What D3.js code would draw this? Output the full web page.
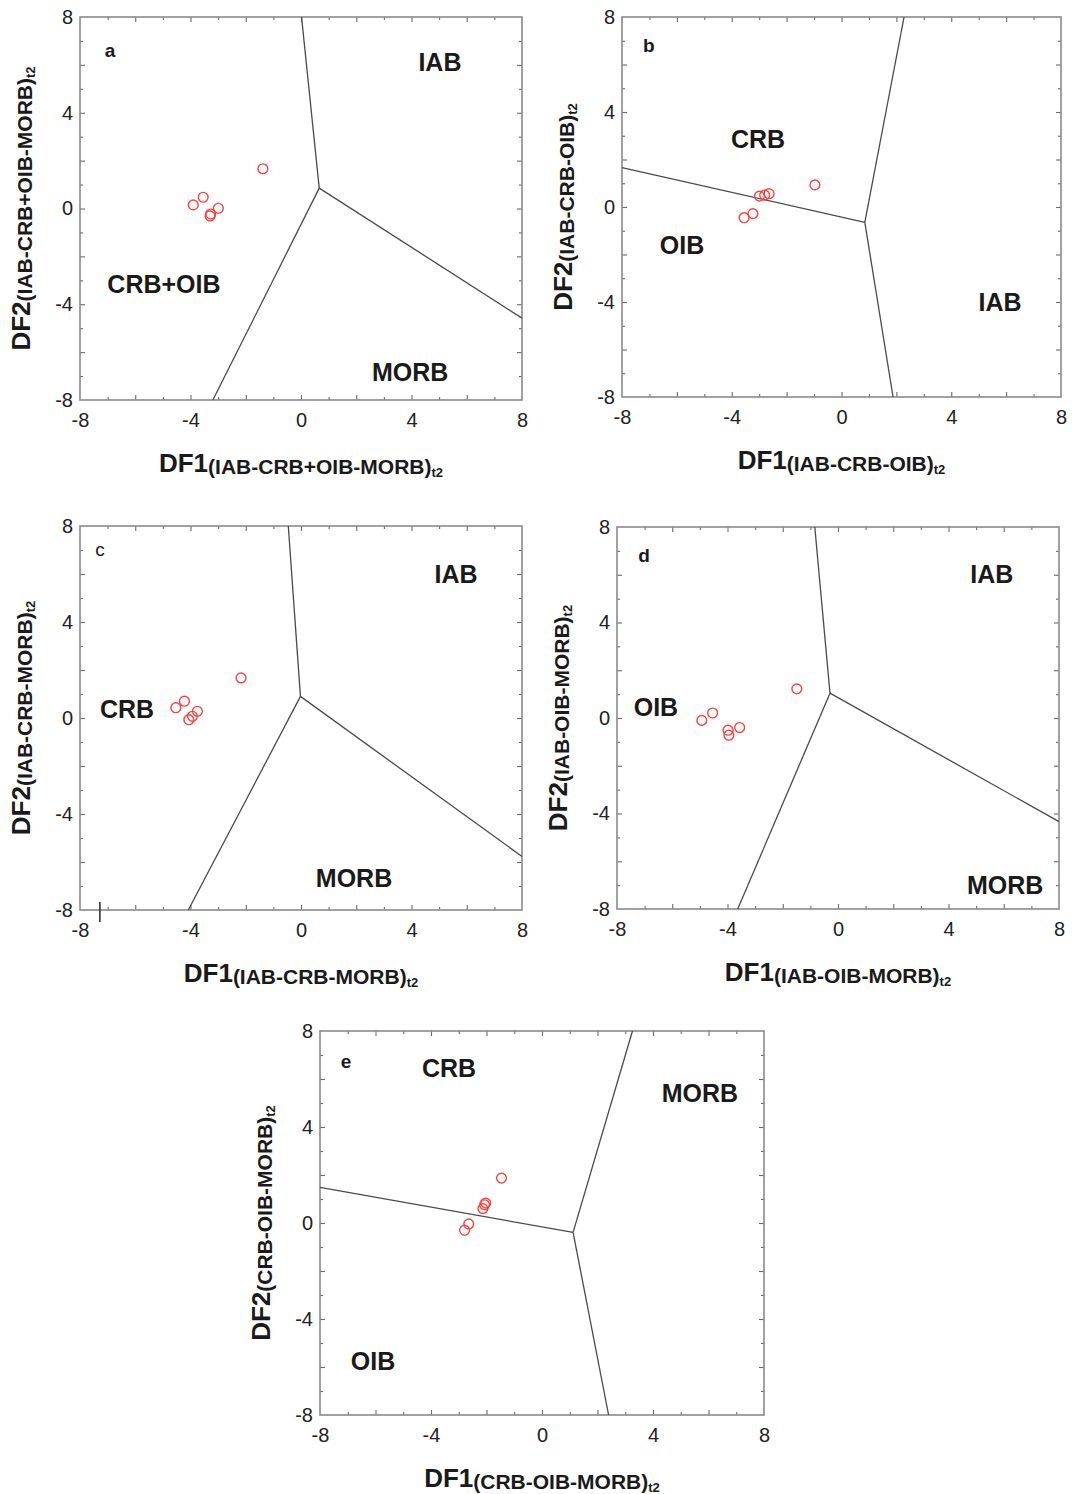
<!DOCTYPE html>
<html>
<head>
<meta charset="utf-8">
<script src="https://cdn.jsdelivr.net/npm/d3@7"></script>
<style>
  html, body { margin: 0; padding: 0; background: #ffffff; }
  svg { display: block; }
  text { font-family: "Liberation Sans", Arial, sans-serif; }
</style>
</head>
<body>
<svg id="chart" width="1072" height="1494"></svg>
<script>
// ---- Discriminant-function diagrams (DF1 vs DF2), five panels ----

const panelLetters = ["a", "b", "c", "d", "e"];
const xSubscripts = ["(IAB-CRB+OIB-MORB)", "(IAB-CRB-OIB)", "(IAB-CRB-MORB)", "(IAB-OIB-MORB)", "(CRB-OIB-MORB)"];
const ySubscripts = ["(IAB-CRB+OIB-MORB)", "(IAB-CRB-OIB)", "(IAB-CRB-MORB)", "(IAB-OIB-MORB)", "(CRB-OIB-MORB)"];
const axisTickLabels = [-8, -4, 0, 4, 8];

// sample scores per panel
const df1A = [-1.38, -3.54, -3.90, -2.99, -3.27, -3.29];
const df2A = [ 1.66,  0.47,  0.15,  0.01, -0.23, -0.31];
const df1B = [-0.97, -2.64, -2.80, -2.99, -3.23, -3.55];
const df2B = [ 0.93,  0.56,  0.50,  0.46, -0.28, -0.45];
const df1C = [-2.17, -4.22, -4.53, -3.75, -3.93, -4.06];
const df2C = [ 1.67,  0.70,  0.43,  0.28,  0.07, -0.07];
const df1D = [-1.49, -4.54, -4.93, -3.56, -3.98, -3.95];
const df2D = [ 1.22,  0.21, -0.10, -0.40, -0.51, -0.72];
const df1E = [-1.46, -2.03, -2.13, -2.64, -2.79, -2.07];
const df2E = [ 1.87,  0.83,  0.60, -0.04, -0.30,  0.76];

// field boundaries: a triple junction joined to three edge points
const junctionA = [0.66, 0.85];
const junctionB = [0.85, -0.65];
const junctionC = [-0.02, 0.90];
const junctionD = [-0.29, 1.04];
const junctionE = [1.12, -0.39];
const edgesA = [[0.02, 8], [8, -4.58], [-3.19, -8]];
const edgesB = [[2.28, 8], [-8, 1.66], [1.88, -8]];
const edgesC = [[-0.46, 8], [8, -5.77], [-4.08, -8]];
const edgesD = [[-0.84, 8], [8, -4.34], [-3.63, -8]];
const edgesE = [[3.26, 8], [-8, 1.48], [2.40, -8]];

// tectonic field names and their anchor points (DF1, DF2)
const fieldsA = ["IAB", "CRB+OIB", "MORB"];
const fieldPosA = [[5.03, 6.12], [-4.96, -3.15], [3.95, -6.83]];
const fieldsB = ["CRB", "OIB", "IAB"];
const fieldPosB = [[-3.04, 2.86], [-5.81, -1.60], [5.78, -4.00]];
const fieldsC = ["IAB", "CRB", "MORB"];
const fieldPosC = [[5.61, 6.00], [-6.30, 0.37], [1.92, -6.67]];
const fieldsD = ["IAB", "OIB", "MORB"];
const fieldPosD = [[5.57, 6.03], [-6.59, 0.46], [6.05, -7.00]];
const fieldsE = ["CRB", "MORB", "OIB"];
const fieldPosE = [[-3.35, 6.46], [5.69, 5.42], [-6.09, -5.75]];

// panel letter anchors
const letterPos = [[-6.91, 6.62], [-7.02, 6.78], [-7.28, 7.04], [-7.02, 6.79], [-7.06, 6.75]];

const panelData = [
  { df1: df1A, df2: df2A, junction: junctionA, edges: edgesA, fields: fieldsA, fieldPos: fieldPosA },
  { df1: df1B, df2: df2B, junction: junctionB, edges: edgesB, fields: fieldsB, fieldPos: fieldPosB },
  { df1: df1C, df2: df2C, junction: junctionC, edges: edgesC, fields: fieldsC, fieldPos: fieldPosC },
  { df1: df1D, df2: df2D, junction: junctionD, edges: edgesD, fields: fieldsD, fieldPos: fieldPosD },
  { df1: df1E, df2: df2E, junction: junctionE, edges: edgesE, fields: fieldsE, fieldPos: fieldPosE }
];

// plot frames on the page
const frames = [
  { left: 80,  top: 17,   width: 442, height: 383 },
  { left: 622, top: 17,   width: 439, height: 380 },
  { left: 80,  top: 526,  width: 442, height: 384 },
  { left: 617, top: 527,  width: 442, height: 382 },
  { left: 320, top: 1031, width: 444, height: 384 }
];

const svg = d3.select("#chart");
const hyphenFormat = d => String(d);   // plain hyphen-minus for negatives

function styleTicks(sel, color) {
  sel.select(".domain").remove();
  sel.selectAll(".tick line").attr("stroke", color).attr("stroke-width", 1.1);
}

function drawPanel(i) {
  const f = frames[i];
  const p = panelData[i];
  const g = svg.append("g").attr("transform", `translate(${f.left},${f.top})`);
  const x = d3.scaleLinear().domain([-8, 8]).range([0, f.width]);
  const y = d3.scaleLinear().domain([-8, 8]).range([f.height, 0]);

  const oddTicks = d3.range(-7, 8, 2);
  const evenTicks = d3.range(-6, 7, 2);
  const tickColor = "#6a6a6a";

  // inward ticks on all four sides
  [[oddTicks, 3], [evenTicks, 5]].forEach(([vals, len]) => {
    g.append("g").attr("transform", `translate(0,${f.height})`)
      .call(d3.axisBottom(x).tickValues(vals).tickSize(-len).tickFormat(""))
      .call(s => styleTicks(s, tickColor));
    g.append("g")
      .call(d3.axisTop(x).tickValues(vals).tickSize(-len).tickFormat(""))
      .call(s => styleTicks(s, tickColor));
    g.append("g")
      .call(d3.axisLeft(y).tickValues(vals).tickSize(-len).tickFormat(""))
      .call(s => styleTicks(s, tickColor));
    g.append("g").attr("transform", `translate(${f.width},0)`)
      .call(d3.axisRight(y).tickValues(vals).tickSize(-len).tickFormat(""))
      .call(s => styleTicks(s, tickColor));
  });

  // tick labels
  const xl = g.append("g").attr("transform", `translate(0,${f.height})`)
    .call(d3.axisBottom(x).tickValues(axisTickLabels).tickSize(0).tickPadding(13).tickFormat(hyphenFormat));
  xl.select(".domain").remove();
  xl.selectAll("text").attr("font-size", 20).attr("fill", "#222")
    .attr("font-family", "'Liberation Sans', Arial, sans-serif");

  const yl = g.append("g")
    .call(d3.axisLeft(y).tickValues(axisTickLabels).tickSize(0).tickPadding(7).tickFormat(hyphenFormat));
  yl.select(".domain").remove();
  yl.selectAll("text").attr("font-size", 20).attr("fill", "#222")
    .attr("font-family", "'Liberation Sans', Arial, sans-serif");

  // frame
  g.append("rect")
    .attr("width", f.width).attr("height", f.height)
    .attr("fill", "none").attr("stroke", "#8a8a8a").attr("stroke-width", 1.6);

  // field boundaries
  const line = d3.line().x(d => x(d[0])).y(d => y(d[1]));
  p.edges.forEach(e => {
    g.append("path")
      .attr("d", line([p.junction, e]))
      .attr("fill", "none").attr("stroke", "#4a4a4a").attr("stroke-width", 1.3);
  });

  // field names
  p.fields.forEach((name, k) => {
    g.append("text")
      .attr("x", x(p.fieldPos[k][0])).attr("y", y(p.fieldPos[k][1]))
      .attr("text-anchor", "middle").attr("dominant-baseline", "central")
      .attr("font-size", 25).attr("font-weight", "bold").attr("fill", "#1a1a1a")
      .text(name);
  });

  // panel letter
  g.append("text")
    .attr("x", x(letterPos[i][0])).attr("y", y(letterPos[i][1]))
    .attr("text-anchor", "middle").attr("dominant-baseline", "central")
    .attr("font-size", 19).attr("font-weight", panelLetters[i] === "c" ? "normal" : "bold")
    .attr("fill", "#1a1a1a")
    .text(panelLetters[i]);

  // samples
  g.selectAll("circle.sample")
    .data(d3.zip(p.df1, p.df2))
    .join("circle")
    .attr("class", "sample")
    .attr("cx", d => x(d[0])).attr("cy", d => y(d[1]))
    .attr("r", 4.9)
    .attr("fill", "none").attr("stroke", "#ff4040").attr("stroke-width", 1.4);

  // stray tick below panel c's frame
  if (panelLetters[i] === "c") {
    g.append("line")
      .attr("x1", x(-7.28)).attr("x2", x(-7.28))
      .attr("y1", f.height - 8).attr("y2", f.height + 12)
      .attr("stroke", "#333").attr("stroke-width", 1.6);
  }

  // axis titles
  const xt = svg.append("text")
    .attr("x", f.left + f.width / 2).attr("y", f.top + f.height + 72)
    .attr("text-anchor", "middle").attr("font-weight", "bold").attr("fill", "#1a1a1a");
  xt.append("tspan").attr("font-size", 26).text("DF1");
  xt.append("tspan").attr("font-size", 21).attr("dy", 2).text(xSubscripts[i]);
  xt.append("tspan").attr("font-size", 13).attr("dy", 3).text("t2");

  const cx = f.left - 50, cy = f.top + f.height / 2;
  const yt = svg.append("text")
    .attr("transform", `translate(${cx},${cy}) rotate(-90)`)
    .attr("text-anchor", "middle").attr("font-weight", "bold").attr("fill", "#1a1a1a");
  yt.append("tspan").attr("font-size", 26).text("DF2");
  yt.append("tspan").attr("font-size", 21).attr("dy", 2).text(ySubscripts[i]);
  yt.append("tspan").attr("font-size", 13).attr("dy", 3).text("t2");
}

panelLetters.forEach((_, i) => drawPanel(i));
</script>
</body>
</html>
